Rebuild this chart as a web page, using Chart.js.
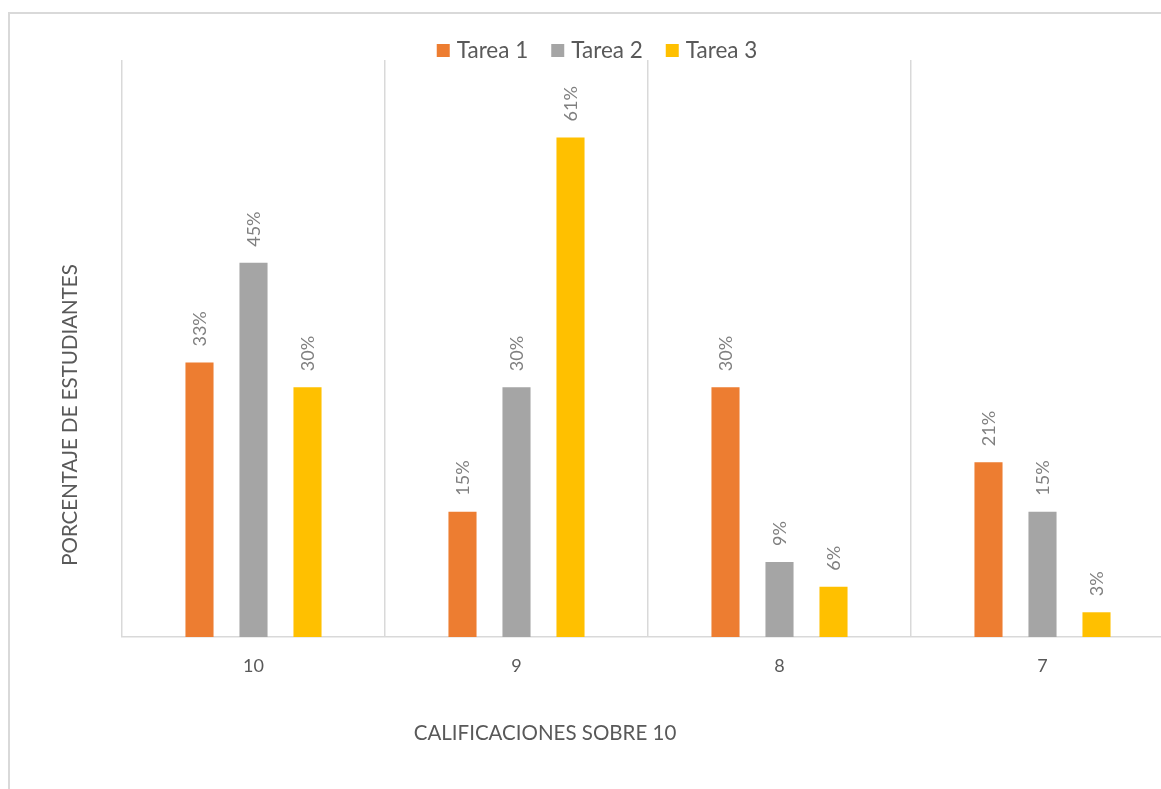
<!DOCTYPE html>
<html>
<head>
<meta charset="utf-8">
<script src="https://cdn.jsdelivr.net/npm/chart.js@4.4.1/dist/chart.umd.min.js"></script>
<style>
  html, body { margin: 0; padding: 0; background: #fff; overflow: hidden; }
  #frame {
    position: absolute; left: 8px; top: 12px; width: 1300px; height: 900px;
    border-left: 2px solid #d9d9d9; border-top: 2px solid #d9d9d9;
  }
  #chart { position: absolute; left: 0; top: 0; }
</style>
</head>
<body>
<div id="frame"></div>
<canvas id="chart" width="1200" height="789"></canvas>
<script>
const categories = ["10", "9", "8", "7"];
const seriesNames = ["Tarea 1", "Tarea 2", "Tarea 3"];
const tarea1 = [33.3, 15.2, 30.3, 21.2];
const tarea2 = [45.4, 30.3, 9.1, 15.2];
const tarea3 = [30.3, 60.6, 6.1, 3.0];
const colors = ["#ED7D31", "#A5A5A5", "#FFC000"];
const yTitle = "PORCENTAJE DE ESTUDIANTES";
const xTitle = "CALIFICACIONES SOBRE 10";

const FONT = "Lato, 'Open Sans', sans-serif";
const TEXT = "#595959";

// etiquetas de valor giradas sobre cada barra
const valueLabels = {
  id: "valueLabels",
  afterDatasetsDraw(chart) {
    const ctx = chart.ctx;
    chart.data.datasets.forEach((ds, i) => {
      chart.getDatasetMeta(i).data.forEach((bar, j) => {
        ctx.save();
        ctx.translate(bar.x + 1, bar.y - 16);
        ctx.rotate(-Math.PI / 2);
        ctx.font = "18px " + FONT;
        ctx.fillStyle = "#7f7f7f";
        ctx.textAlign = "left";
        ctx.textBaseline = "middle";
        ctx.fillText(Math.round(ds.data[j]) + "%", 0, 0);
        ctx.restore();
      });
    });
  },
};

// leyenda arriba, centrada como en el original
const topLegend = {
  id: "topLegend",
  afterDraw(chart) {
    const ctx = chart.ctx;
    ctx.save();
    ctx.font = "22.5px " + FONT;
    ctx.textBaseline = "middle";
    ctx.textAlign = "left";
    const items = chart.data.datasets.map((ds) => ({
      text: ds.label,
      color: ds.backgroundColor,
      w: ctx.measureText(ds.label).width,
    }));
    const box = 13, gapText = 7, gapItem = 23;
    let total = 0;
    items.forEach((it, k) => {
      total += box + gapText + it.w + (k < items.length - 1 ? gapItem : 0);
    });
    let x = 597 - total / 2;
    items.forEach((it) => {
      ctx.fillStyle = it.color;
      ctx.fillRect(x, 44, box, box);
      x += box + gapText;
      ctx.fillStyle = TEXT;
      ctx.fillText(it.text, x, 51);
      x += it.w + gapItem;
    });
    ctx.restore();
  },
};

// titulos de ejes (posicion como en el original)
const axisTitles = {
  id: "axisTitles",
  afterDraw(chart) {
    const ctx = chart.ctx;
    ctx.save();
    ctx.font = "20.5px " + FONT;
    ctx.fillStyle = TEXT;
    ctx.textAlign = "center";
    ctx.textBaseline = "middle";
    ctx.fillText(xTitle, 545, 733);
    ctx.translate(70, 415);
    ctx.rotate(-Math.PI / 2);
    ctx.fillText(yTitle, 0, 0);
    ctx.restore();
  },
};

new Chart(document.getElementById("chart"), {
  type: "bar",
  data: {
    labels: categories,
    datasets: [
      { label: seriesNames[0], data: tarea1, backgroundColor: colors[0] },
      { label: seriesNames[1], data: tarea2, backgroundColor: colors[1] },
      { label: seriesNames[2], data: tarea3, backgroundColor: colors[2] },
    ],
  },
  options: {
    responsive: false,
    animation: false,
    categoryPercentage: 0.616,
    barPercentage: 0.52,
    layout: { padding: { left: 20, right: 26, top: 60, bottom: 0 } },
    plugins: {
      tooltip: { enabled: false },
      legend: { display: false },
    },
    scales: {
      x: {
        grid: { offset: true, color: "#d9d9d9", lineWidth: 1.5, drawTicks: false },
        border: { color: "#d9d9d9", width: 1.5 },
        ticks: { color: TEXT, padding: 18, font: { family: FONT, size: 18 } },
        afterFit(scale) { scale.height = 152; },
      },
      y: {
        min: 0,
        max: 70,
        grid: { display: false },
        border: { display: false },
        ticks: { display: false },
        afterFit(scale) { scale.width = 102; },
      },
    },
  },
  plugins: [valueLabels, topLegend, axisTitles],
});
</script>
</body>
</html>
